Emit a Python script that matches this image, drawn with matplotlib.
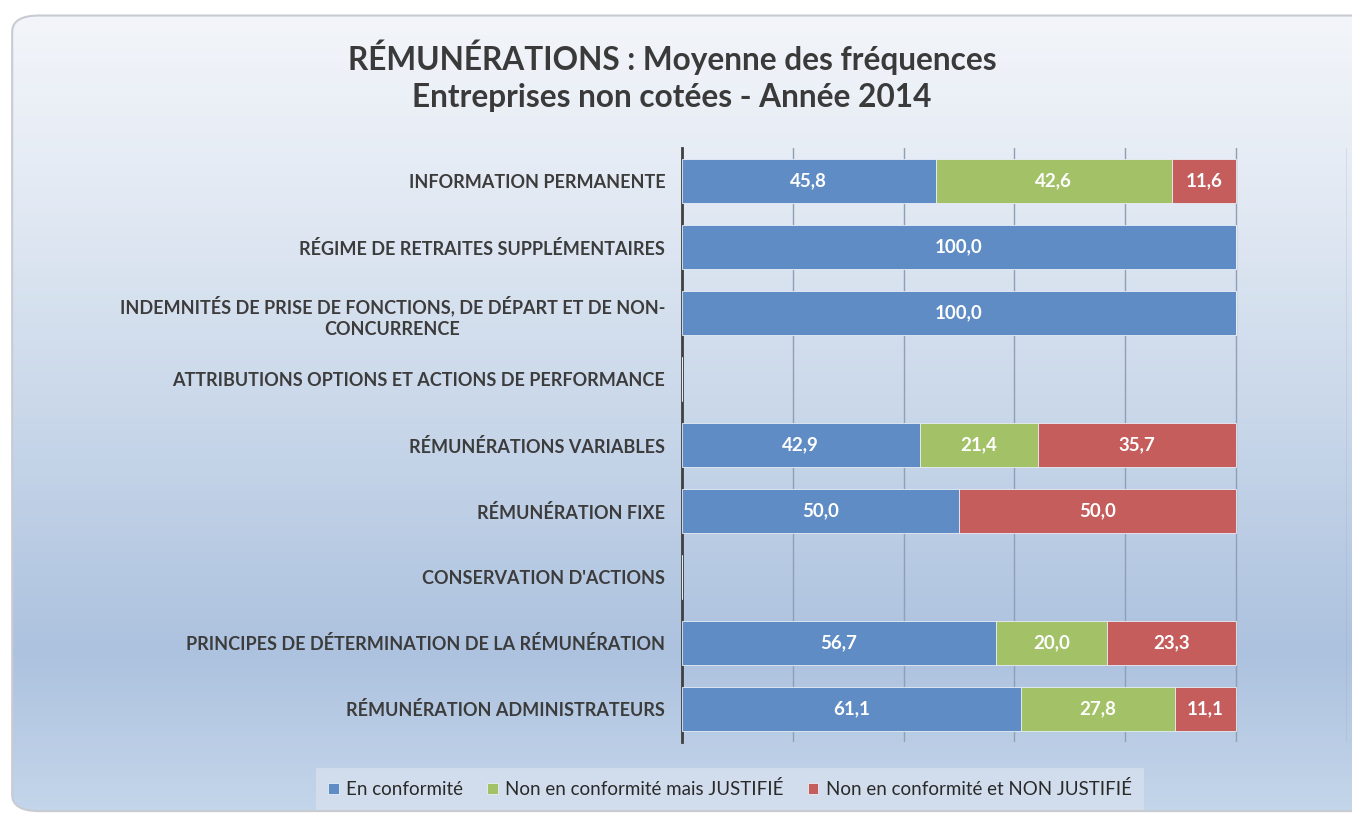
import numpy as np
import matplotlib
matplotlib.use("Agg")
import matplotlib.pyplot as plt
from matplotlib.patches import FancyBboxPatch
from matplotlib.colors import LinearSegmentedColormap

plt.rcParams['font.family'] = ['Lato', 'DejaVu Sans']

categories = [
    "INFORMATION PERMANENTE",
    "RÉGIME DE RETRAITES SUPPLÉMENTAIRES",
    "INDEMNITÉS DE PRISE DE FONCTIONS, DE DÉPART ET DE NON-\nCONCURRENCE",
    "ATTRIBUTIONS OPTIONS ET ACTIONS DE PERFORMANCE",
    "RÉMUNÉRATIONS VARIABLES",
    "RÉMUNÉRATION FIXE",
    "CONSERVATION D'ACTIONS",
    "PRINCIPES DE DÉTERMINATION DE LA RÉMUNÉRATION",
    "RÉMUNÉRATION ADMINISTRATEURS",
]
en_conformite = [45.8, 100.0, 100.0, 0, 42.9, 50.0, 0, 56.7, 61.1]
justifie = [42.6, 0, 0, 0, 21.4, 0, 0, 20.0, 27.8]
non_justifie = [11.6, 0, 0, 0, 35.7, 50.0, 0, 23.3, 11.1]

series_names = ["En conformité", "Non en conformité mais JUSTIFIÉ",
                "Non en conformité et NON JUSTIFIÉ"]
colors = ["#5f8cc4", "#a3c167", "#c45d5c"]

fig = plt.figure(figsize=(13.52, 8.16), dpi=100)
fig.patch.set_facecolor("white")

# background panel with vertical gradient and rounded border
bg = fig.add_axes([0, 0, 1, 1], zorder=0)
bg.set_xlim(0, 1)
bg.set_ylim(0, 1)
bg.axis("off")
grad_cmap = LinearSegmentedColormap.from_list(
    "bg", [(0.0, "#c4d6ea"), (0.2, "#adc2df"), (0.5, "#cad8ea"),
           (0.8, "#e6ecf5"), (1.0, "#f4f6fa")])
grad = np.linspace(0, 1, 256).reshape(-1, 1)
img = bg.imshow(grad, cmap=grad_cmap, aspect="auto", origin="lower",
                extent=[0, 1, 0, 1])
panel = FancyBboxPatch((0.009, 0.006), 1.05, 0.975,
                       boxstyle="round,pad=0,rounding_size=0.02",
                       transform=bg.transAxes, facecolor="none",
                       edgecolor="#c8ccd2", linewidth=1.5)
bg.add_patch(panel)
img.set_clip_path(panel)

ax = fig.add_axes([0.5044, 0.0907, 0.4919, 0.7279], zorder=1)
ax.patch.set_alpha(0)

y = np.arange(len(categories))
left = np.zeros(len(categories))
for vals, name, col in zip([en_conformite, justifie, non_justifie], series_names, colors):
    vals = np.array(vals, dtype=float)
    bars = ax.barh(y, vals, left=left, height=0.667, color=col,
                   edgecolor="#e8eef6", linewidth=0.6, label=name, zorder=3)
    for b, v in zip(bars, vals):
        if v > 0:
            ax.text(b.get_x() + b.get_width() / 2, b.get_y() + b.get_height() / 2,
                    f"{v:.1f}".replace(".", ","), ha="center", va="center",
                    color="white", fontsize=13.5, fontweight="bold", zorder=4)
    left += vals

ax.set_xlim(0, 120)
ax.set_ylim(len(categories) - 0.5, -0.5)
ax.set_xticks(np.arange(0, 121, 20))
ax.set_xticklabels([])
ax.tick_params(axis="x", length=0)
ax.grid(axis="x", color="#8e9fb6", linewidth=1, zorder=1)
ax.set_yticks(y)
ax.set_yticklabels(categories, fontsize=13, fontweight="bold", color="#3c3c3c",
                   multialignment="center", linespacing=1.3)
ax.tick_params(axis="y", length=0, pad=12)
for s in ["top", "right", "bottom"]:
    ax.spines[s].set_visible(False)
ax.spines["left"].set_color("#404040")
ax.spines["left"].set_linewidth(2)

fig.text(0.497, 0.93, "RÉMUNÉRATIONS : Moyenne des fréquences",
         ha="center", va="center", fontsize=22.8, fontweight="bold", color="#3a3a3a")
fig.text(0.497, 0.881, "Entreprises non cotées - Année 2014",
         ha="center", va="center", fontsize=22.8, fontweight="bold", color="#3a3a3a")

leg = fig.legend(loc="center", bbox_to_anchor=(0.54, 0.033), ncol=3,
                 frameon=True, fontsize=13.5, handlelength=0.55, handleheight=0.55,
                 handletextpad=0.4, columnspacing=1.3, borderpad=0.4)
leg.get_frame().set_facecolor("#d6e0ee")
leg.get_frame().set_edgecolor("none")
leg.get_frame().set_boxstyle("square,pad=0.25")
for t in leg.get_texts():
    t.set_color("#2a2a2a")

fig.savefig("out.png", dpi=100)
